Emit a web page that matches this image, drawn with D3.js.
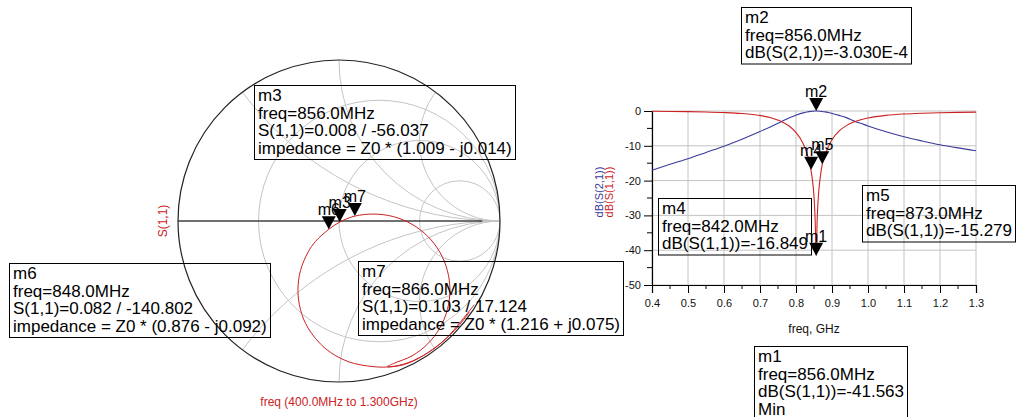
<!DOCTYPE html>
<html><head><meta charset="utf-8">
<script src="https://cdn.jsdelivr.net/npm/d3@7"></script>
<style>
html,body{margin:0;padding:0;background:#fff;}
svg{display:block;font-family:"Liberation Sans",Arial,sans-serif;}
</style></head>
<body>
<svg id="c" width="1019" height="417"></svg>
<script>
// ---------- DATA ----------
// Right plot: frequency (GHz) and dB traces
const freqGHz = [0.40,0.45,0.50,0.55,0.60,0.65,0.70,0.73,0.76,0.78,0.80,0.82,0.83,0.84,0.845,0.85,0.853,0.856,0.859,0.862,0.867,0.873,0.88,0.89,0.90,0.92,0.94,0.96,0.98,1.00,1.05,1.10,1.15,1.20,1.25,1.30];
const s21dB = [-17.0,-15.3,-13.7,-11.9,-10.1,-8.1,-5.9,-4.5,-3.0,-2.0,-1.2,-0.53,-0.3,-0.11,-0.05,-0.02,-0.005,-0.0003,-0.005,-0.02,-0.06,-0.13,-0.25,-0.45,-0.70,-1.25,-1.9,-2.84,-3.55,-4.3,-5.97,-7.4,-8.6,-9.7,-10.6,-11.4];
const s11dB = [-0.09,-0.13,-0.19,-0.29,-0.45,-0.73,-1.30,-1.93,-3.04,-4.24,-6.2,-9.4,-12.0,-16.1,-19.3,-24.6,-30.7,-41.563,-30.7,-24.7,-19.4,-15.279,-12.9,-10.2,-8.25,-5.73,-4.2,-3.19,-2.50,-2.02,-1.27,-0.87,-0.64,-0.49,-0.39,-0.32];
const xTicks = [0.4,0.5,0.6,0.7,0.8,0.9,1.0,1.1,1.2,1.3];
const xTickLabels = ["0.4","0.5","0.6","0.7","0.8","0.9","1.0","1.1","1.2","1.3"];
const yTicks = [0,-10,-20,-30,-40,-50];
const yTickLabels = ["0","-10","-20","-30","-40","-50"];

// Smith chart: S(1,1) locus, reflection coefficient (real, imag), 400 MHz -> 1.3 GHz
const smithRe = [0.84,0.76,0.66,0.55,0.43,0.32,0.217,0.056,-0.086,-0.192,-0.239,-0.255,-0.239,-0.192,-0.145,-0.0636,0.0045,0.0985,0.217,0.339,0.453,0.551,0.626,0.673,0.689,0.673,0.626,0.551,0.453,0.339,0.30,0.40,0.52,0.64,0.74,0.81];
const smithIm = [-0.52,-0.62,-0.735,-0.82,-0.88,-0.905,-0.905,-0.873,-0.791,-0.665,-0.551,-0.429,-0.307,-0.193,-0.126,-0.0518,-0.0066,0.0303,0.043,0.027,-0.020,-0.095,-0.193,-0.307,-0.429,-0.551,-0.665,-0.763,-0.838,-0.885,-0.905,-0.893,-0.838,-0.752,-0.655,-0.565];
const gridR = [1/3, 1, 3];
const gridX = [0.5, 1, 2, -0.5, -1, -2];

// Markers
const smithMarkers = [
  {name:"m6", mag:0.082, ang:-140.802},
  {name:"m3", mag:0.008, ang:-56.037},
  {name:"m7", mag:0.103, ang:17.124}
];
const plotMarkers = [
  {name:"m2", f:0.856, v:-3.030e-4},
  {name:"m4", f:0.842, v:-16.849},
  {name:"m5", f:0.873, v:-15.279},
  {name:"m1", f:0.856, v:-41.563}
];
const boxes = [
  {x:254, y:85,  lines:["m3","freq=856.0MHz","S(1,1)=0.008 / -56.037","impedance = Z0 * (1.009 - j0.014)"]},
  {x:9,   y:263, lines:["m6","freq=848.0MHz","S(1,1)=0.082 / -140.802","impedance = Z0 * (0.876 - j0.092)"]},
  {x:358, y:261, lines:["m7","freq=866.0MHz","S(1,1)=0.103 / 17.124","impedance = Z0 * (1.216 + j0.075)"]},
  {x:741, y:7,   lines:["m2","freq=856.0MHz","dB(S(2,1))=-3.030E-4"]},
  {x:658, y:198, lines:["m4","freq=842.0MHz","dB(S(1,1))=-16.849"]},
  {x:862, y:185, lines:["m5","freq=873.0MHz","dB(S(1,1))=-15.279"]},
  {x:754, y:346, lines:["m1","freq=856.0MHz","dB(S(1,1))=-41.563","Min"]}
];

// ---------- DRAW ----------
const svg = d3.select("#c");
const RED = "#cc2222", BLUE = "#3a3a9c", GRID = "#c4c4c4";

// ===== Smith chart =====
const sx = d3.scaleLinear().domain([-1,1]).range([178,500]);
const sy = d3.scaleLinear().domain([-1,1]).range([382,60]);
const R = sx(1)-sx(0);
svg.append("clipPath").attr("id","unit").append("circle")
  .attr("cx",sx(0)).attr("cy",sy(0)).attr("r",R);
const sg = svg.append("g");
const gg = sg.append("g").attr("clip-path","url(#unit)").attr("fill","none").attr("stroke",GRID).attr("stroke-width",1);
gridR.forEach(r=>{
  gg.append("circle").attr("cx",sx(r/(1+r))).attr("cy",sy(0)).attr("r",R/(1+r));
});
gridX.forEach(x=>{
  gg.append("circle").attr("cx",sx(1)).attr("cy",sy(1/x)).attr("r",R/Math.abs(x));
});
gg.append("line").attr("x1",sx(-1)).attr("x2",sx(1)).attr("y1",sy(0)).attr("y2",sy(0));
// real axis (black)
sg.append("line").attr("x1",sx(-1)).attr("x2",sx(0.89)).attr("y1",sy(0)).attr("y2",sy(0))
  .attr("stroke","#000").attr("stroke-width",1.2);
// outer circle
sg.append("circle").attr("cx",sx(0)).attr("cy",sy(0)).attr("r",R)
  .attr("fill","none").attr("stroke","#222").attr("stroke-width",1.2);
// locus
const smithLine = d3.line().x(i=>sx(smithRe[i])).y(i=>sy(smithIm[i])).curve(d3.curveCatmullRom.alpha(0.5));
sg.append("path").attr("d",smithLine(d3.range(smithRe.length)))
  .attr("fill","none").attr("stroke",RED).attr("stroke-width",1);
// labels
svg.append("text").attr("transform",`translate(167,${sy(0)}) rotate(-90)`)
  .attr("text-anchor","middle").attr("font-size",12).attr("fill",RED).text("S(1,1)");
svg.append("text").attr("x",sx(0)).attr("y",406).attr("text-anchor","middle")
  .attr("font-size",12).attr("fill",RED).text("freq (400.0MHz to 1.300GHz)");

// ===== Rectangular plot =====
const xs = d3.scaleLinear().domain([0.4,1.3]).range([652,976]);
const ys = d3.scaleLinear().domain([-50,0]).range([285,111]);
const pg = svg.append("g");
// grid
xTicks.forEach(t=>{
  pg.append("line").attr("x1",xs(t)).attr("x2",xs(t)).attr("y1",ys(-50)).attr("y2",ys(0))
    .attr("stroke",GRID).attr("stroke-width",1);
});
yTicks.forEach(t=>{
  pg.append("line").attr("x1",xs(0.4)).attr("x2",xs(1.3)).attr("y1",ys(t)).attr("y2",ys(t))
    .attr("stroke",GRID).attr("stroke-width",1);
});
// axes
const xAxis = d3.axisBottom(xs).tickValues(xTicks).tickSize(8).tickFormat((d,i)=>xTickLabels[i]);
const xAxisG = pg.append("g").attr("transform",`translate(0,${ys(-50)})`).call(xAxis);
const yAxis = d3.axisLeft(ys).tickValues(yTicks).tickSize(8).tickFormat((d,i)=>yTickLabels[i]);
const yAxisG = pg.append("g").attr("transform",`translate(${xs(0.4)},0)`).call(yAxis);
[xAxisG,yAxisG].forEach(g=>{
  g.select(".domain").attr("stroke","#000").attr("stroke-width",1.2);
  g.selectAll(".tick line").attr("stroke","#000");
  g.selectAll("text").attr("font-size",11).attr("fill","#111")
    .attr("font-family","'Liberation Sans',Arial,sans-serif");
});
xAxisG.selectAll("text").attr("dy","1.0em");
// minor ticks
const minorX = xTicks.slice(0,-1).map(t=>t+0.05);
minorX.forEach(t=>{
  pg.append("line").attr("x1",xs(t)).attr("x2",xs(t)).attr("y1",ys(-50)).attr("y2",ys(-50)+4).attr("stroke","#000");
});
const minorY = yTicks.slice(0,-1).map(t=>t-5);
minorY.forEach(t=>{
  pg.append("line").attr("x1",xs(0.4)-5).attr("x2",xs(0.4)).attr("y1",ys(t)).attr("y2",ys(t)).attr("stroke","#000");
});
// traces
const lineGen = arr => d3.line().x((d,i)=>xs(freqGHz[i])).y((d,i)=>ys(arr[i])).curve(d3.curveMonotoneX)(arr);
pg.append("path").attr("d",lineGen(s21dB)).attr("fill","none").attr("stroke",BLUE).attr("stroke-width",1.1);
pg.append("path").attr("d",lineGen(s11dB)).attr("fill","none").attr("stroke",RED).attr("stroke-width",1.1);
// axis titles
svg.append("text").attr("x",xs(0.85)).attr("y",333).attr("text-anchor","middle")
  .attr("font-size",12).attr("fill","#111").text("freq, GHz");
const yt = svg.append("text").attr("transform","translate(603,192) rotate(-90)")
  .attr("text-anchor","middle").attr("font-size",11);
yt.append("tspan").attr("x",0).attr("dy",0).attr("fill",BLUE).text("dB(S(2,1))");
yt.append("tspan").attr("x",0).attr("dy",10).attr("fill",RED).text("dB(S(1,1))");

// ===== Marker triangles =====
function tri(g, x, y, name){
  g.append("path").attr("d",`M${x},${y} L${x-7},${y-13} L${x+7},${y-13} Z`).attr("fill","#000");
  g.append("text").attr("x",x).attr("y",y-14).attr("text-anchor","middle")
    .attr("font-size",16).attr("fill","#000").text(name);
}
const mg = svg.append("g");
smithMarkers.forEach(m=>{
  const re = m.mag*Math.cos(m.ang*Math.PI/180), im = m.mag*Math.sin(m.ang*Math.PI/180);
  tri(mg, sx(re), sy(im), m.name);
});
plotMarkers.forEach(m=>{
  tri(mg, xs(m.f), ys(m.v), m.name);
});

// ===== Marker boxes =====
const bg = svg.append("g");
boxes.forEach(b=>{
  const g = bg.append("g");
  let maxW = 0;
  b.lines.forEach((s,i)=>{
    const t = g.append("text").attr("x",b.x+4).attr("y",b.y+16+i*17.5)
      .attr("font-size",17).attr("fill","#000").text(s);
    maxW = Math.max(maxW, t.node().getComputedTextLength());
  });
  g.insert("rect","text").attr("x",b.x+0.5).attr("y",b.y+0.5)
    .attr("width",Math.round(maxW+7)).attr("height",b.lines.length*17.5+4)
    .attr("fill","none").attr("stroke","#000").attr("stroke-width",1);
});
</script>
</body></html>
